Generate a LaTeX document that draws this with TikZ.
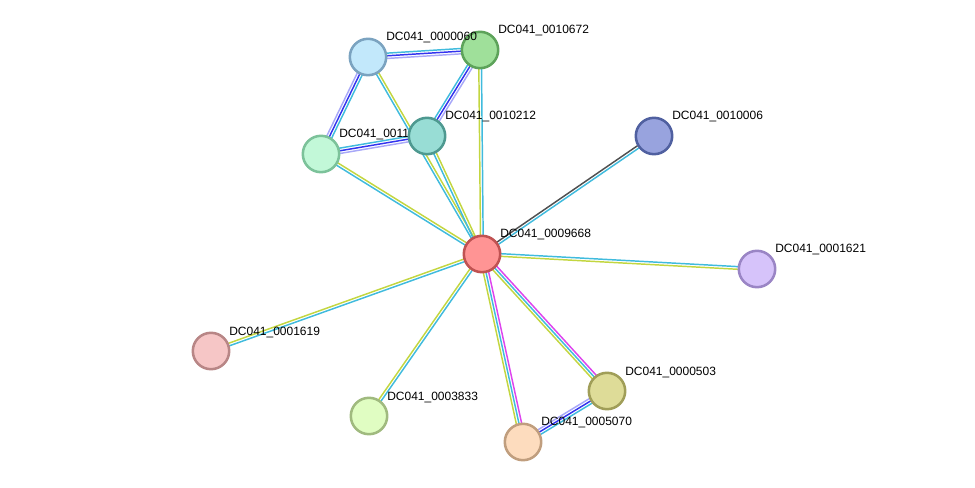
\documentclass[tikz,border=0pt]{standalone}
\usepackage{fontspec}
\setmainfont{Liberation Sans}
\usetikzlibrary{calc}
\pgfdeclarelayer{bg}
\pgfsetlayers{bg,main}
\definecolor{ecyan}{HTML}{40BBDD}
\definecolor{eyel}{HTML}{C3D640}
\definecolor{emag}{HTML}{DD44EE}
\definecolor{eblue}{HTML}{3333EE}
\definecolor{elav}{HTML}{A8A8F8}
\definecolor{egray}{HTML}{505050}
\tikzset{
  prot/.style={circle, inner sep=0pt, minimum size=27.3pt, line width=1.9pt},
  lab/.style={anchor=base west, inner sep=0pt, font=\fontsize{9}{10}\selectfont},
  eline/.style={line width=1.1pt}
}
\newcommand\lline[4]{\draw[eline,#3] ($(#1.center)!#4!90:(#2.center)$) -- ($(#2.center)!#4!-90:(#1.center)$);}
\newcommand\rline[4]{\draw[eline,#3] ($(#1.center)!#4!-90:(#2.center)$) -- ($(#2.center)!#4!90:(#1.center)$);}
\newcommand\mline[3]{\draw[eline,#3] (#1.center) -- (#2.center);}
\newcommand\etwo[4]{\lline{#1}{#2}{#3}{1pt}\rline{#1}{#2}{#4}{1pt}}
\newcommand\ethree[5]{\lline{#1}{#2}{#3}{2pt}\mline{#1}{#2}{#4}\rline{#1}{#2}{#5}{2pt}}
\begin{document}
\begin{tikzpicture}[x=0.75pt,y=-0.75pt]
\useasboundingbox (0,0) rectangle (975,488);
% nodes
\node[prot, fill={rgb,255:red,159;green,224;blue,154}, draw={rgb,255:red,93;green,163;blue,90}] (n672) at (480,50) {};
\node[lab] (l672) at (498,34) {DC041\_0010672};
\node[prot, fill={rgb,255:red,194;green,232;blue,251}, draw={rgb,255:red,123;green,163;blue,192}] (n060) at (368,57) {};
\node[lab] (l060) at (386,41) {DC041\_0000060};
\node[prot, fill={rgb,255:red,194;green,248;blue,216}, draw={rgb,255:red,124;green,194;blue,154}] (n011) at (321,154) {};
\node[lab] (l011) at (339,138) {DC041\_0011};
\node[prot, fill={rgb,255:red,152;green,221;blue,213}, draw={rgb,255:red,78;green,153;blue,144}] (n212) at (427,136) {};
\node[lab] (l212) at (445,120) {DC041\_0010212};
\node[prot, fill={rgb,255:red,152;green,163;blue,222}, draw={rgb,255:red,80;green,96;blue,160}] (n006) at (654,136) {};
\node[lab] (l006) at (672,120) {DC041\_0010006};
\node[prot, fill={rgb,255:red,255;green,148;blue,148}, draw={rgb,255:red,192;green,82;blue,82}] (n668) at (482,254) {};
\node[lab] (l668) at (500,238) {DC041\_0009668};
\node[prot, fill={rgb,255:red,214;green,195;blue,250}, draw={rgb,255:red,154;green,133;blue,197}] (n621) at (757,269) {};
\node[lab] (l621) at (775,253) {DC041\_0001621};
\node[prot, fill={rgb,255:red,246;green,198;blue,198}, draw={rgb,255:red,184;green,134;blue,134}] (n619) at (211,351) {};
\node[lab] (l619) at (229,335) {DC041\_0001619};
\node[prot, fill={rgb,255:red,224;green,253;blue,194}, draw={rgb,255:red,160;green,186;blue,127}] (n833) at (369,416) {};
\node[lab] (l833) at (387,400) {DC041\_0003833};
\node[prot, fill={rgb,255:red,222;green,220;blue,152}, draw={rgb,255:red,160;green,158;blue,88}] (n503) at (607,391) {};
\node[lab] (l503) at (625,375) {DC041\_0000503};
\node[prot, fill={rgb,255:red,253;green,220;blue,190}, draw={rgb,255:red,192;green,158;blue,126}] (n070) at (523,442) {};
\node[lab] (l070) at (541,426) {DC041\_0005070};
% edges
\begin{pgfonlayer}{bg}
\ethree{n060}{n672}{ecyan}{eblue}{elav}
\ethree{n060}{n011}{ecyan}{eblue}{elav}
\ethree{n672}{n212}{elav}{eblue}{ecyan}
\ethree{n011}{n212}{ecyan}{eblue}{elav}
\ethree{n503}{n070}{ecyan}{eblue}{elav}
\etwo{n668}{n060}{ecyan}{eyel}
\etwo{n668}{n212}{ecyan}{eyel}
\etwo{n668}{n672}{eyel}{ecyan}
\etwo{n668}{n011}{ecyan}{eyel}
\etwo{n668}{n006}{egray}{ecyan}
\etwo{n668}{n621}{ecyan}{eyel}
\etwo{n668}{n619}{ecyan}{eyel}
\etwo{n668}{n833}{ecyan}{eyel}
\ethree{n668}{n503}{emag}{ecyan}{eyel}
\ethree{n668}{n070}{emag}{ecyan}{eyel}
\end{pgfonlayer}
\end{tikzpicture}
\end{document}
